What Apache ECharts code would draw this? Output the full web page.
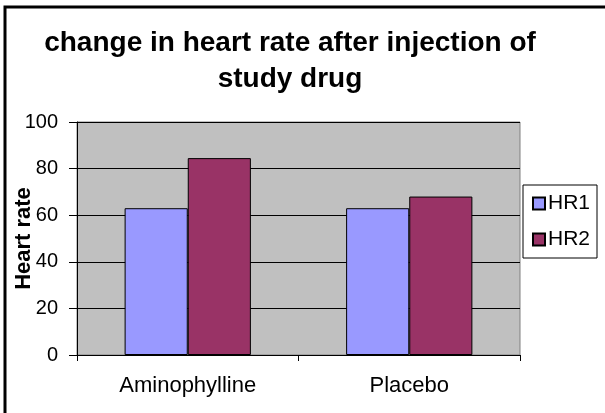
<!DOCTYPE html>
<html>
<head>
<meta charset="utf-8">
<script src="https://cdn.jsdelivr.net/npm/echarts@6/dist/echarts.min.js"></script>
<style>
  html, body { margin: 0; padding: 0; background: #fff; }
  #chart { width: 605px; height: 413px; }
</style>
</head>
<body>
<div id="chart"></div>
<script>
var categories = ['Aminophylline', 'Placebo'];
var hr1 = [63, 63];
var hr2 = [84.5, 68];
var yTicks = { min: 0, max: 100, interval: 20 };

var font = 'Liberation Sans, Arial, sans-serif';

var chart = echarts.init(document.getElementById('chart'));
var option = {
  animation: false,
  backgroundColor: '#fff',
  textStyle: { fontFamily: font },
  title: {
    text: 'change in heart rate after injection of\nstudy drug',
    left: 285,
    textAlign: 'center',
    top: 20,
    padding: 5,
    textStyle: {
      fontFamily: font,
      fontSize: 28,
      fontWeight: 'bold',
      color: '#000',
      lineHeight: 36
    }
  },
  // outer frame of the figure (right/bottom edges fall outside the picture)
  graphic: [{
    type: 'rect',
    shape: { x: 5, y: 7, width: 700, height: 500 },
    style: { fill: 'none', stroke: '#000', lineWidth: 3 },
    silent: true
  }],
  legend: {
    orient: 'vertical',
    left: 523,
    top: 185,
    padding: [8, 7, 8, 9],
    icon: 'rect',
    itemWidth: 12,
    itemHeight: 12,
    itemGap: 15,
    backgroundColor: '#fff',
    borderColor: '#000',
    borderWidth: 1,
    borderRadius: 0,
    textStyle: { fontFamily: font, fontSize: 21, color: '#000', padding: [0, 0, 0, -2] },
    data: ['HR1', 'HR2']
  },
  grid: {
    left: 77,
    right: 85,
    top: 122,
    bottom: 58,
    show: true,
    backgroundColor: '#c0c0c0',
    borderColor: '#808080',
    borderWidth: 1,
    containLabel: false,
    outerBoundsMode: 'none'
  },
  xAxis: {
    type: 'category',
    data: categories,
    axisLine: { lineStyle: { color: '#000', width: 1 } },
    axisTick: { show: true, length: 6, alignWithLabel: false, lineStyle: { color: '#000' } },
    axisLabel: { fontFamily: font, fontSize: 22, color: '#000', margin: 20 },
    splitLine: { show: false }
  },
  yAxis: {
    type: 'value',
    min: yTicks.min,
    max: yTicks.max,
    interval: yTicks.interval,
    name: 'Heart rate',
    nameLocation: 'middle',
    nameGap: 42,
    nameMoveOverlap: false,
    nameTextStyle: { fontFamily: font, fontSize: 22, fontWeight: 'bold', color: '#000' },
    axisLine: { show: true, lineStyle: { color: '#000', width: 1 } },
    axisTick: { show: true, length: 8, lineStyle: { color: '#000' } },
    axisLabel: { fontFamily: font, fontSize: 20, color: '#000', margin: 19 },
    splitLine: { show: true, lineStyle: { color: '#000', width: 1 } }
  },
  series: [
    {
      name: 'HR1',
      type: 'bar',
      data: hr1,
      barGap: '0%',
      barCategoryGap: '43%',
      itemStyle: { color: '#9999ff', borderColor: '#000', borderWidth: 1 }
    },
    {
      name: 'HR2',
      type: 'bar',
      data: hr2,
      barGap: '0%',
      barCategoryGap: '43%',
      itemStyle: { color: '#993366', borderColor: '#000', borderWidth: 1 }
    }
  ]
};
chart.setOption(option);
</script>
</body>
</html>
